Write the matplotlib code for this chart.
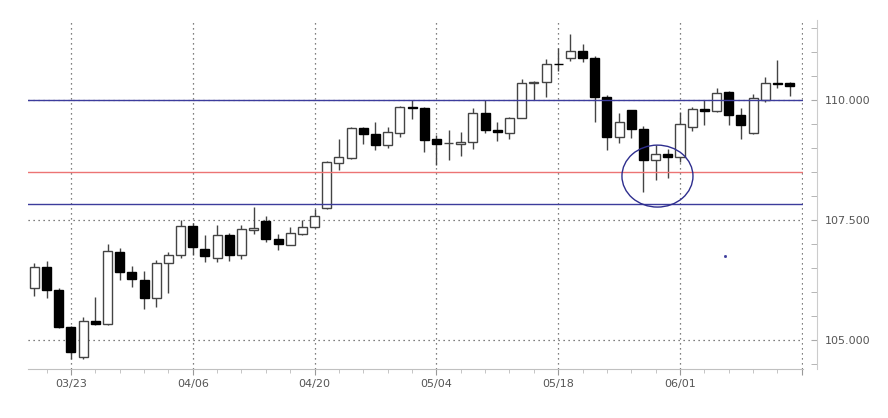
import numpy as np
import pandas as pd
import matplotlib
matplotlib.use('Agg')
import matplotlib.pyplot as plt
from matplotlib.patches import Ellipse
from matplotlib.ticker import MultipleLocator, FixedLocator, FuncFormatter

# daily USD/JPY candles, 2020-03-18 .. 2020-06-12 (business days)
dates = pd.bdate_range('2020-03-18', periods=63)

opens = [106.08, 106.53, 106.04, 105.28, 104.65, 105.40, 105.33, 106.84, 106.42, 106.26,
         105.88, 106.61, 106.77, 107.38, 106.91, 106.72, 107.20, 106.77, 107.30, 107.49,
         107.10, 106.99, 107.22, 107.35, 107.76, 108.69, 108.80, 109.42, 109.29, 109.06,
         109.32, 109.86, 109.83, 109.19, 109.10, 109.08, 109.12, 109.74, 109.39, 109.31,
         109.64, 110.35, 110.37, 110.76, 110.89, 111.03, 110.89, 110.07, 109.24, 109.79,
         109.41, 108.75, 108.89, 108.81, 109.44, 109.81, 109.78, 110.17, 109.69, 109.31,
         110.01, 110.36, 110.35]
highs = [106.61, 106.65, 106.08, 105.29, 105.49, 105.90, 107.01, 106.92, 106.54, 106.44,
         106.67, 106.84, 107.50, 107.45, 107.20, 107.40, 107.24, 107.41, 107.78, 107.59,
         107.21, 107.36, 107.51, 107.74, 108.74, 109.20, 109.44, 109.44, 109.54, 109.44,
         109.88, 110.01, 109.86, 109.27, 109.39, 109.34, 109.83, 110.00, 109.55, 109.65,
         110.45, 110.40, 110.85, 111.08, 111.39, 111.17, 110.92, 110.10, 109.74, 109.80,
         109.46, 109.06, 108.99, 109.76, 109.86, 110.00, 110.26, 110.19, 109.83, 110.12,
         110.49, 110.83, 110.38]
lows = [105.92, 105.88, 105.26, 104.62, 104.62, 105.32, 105.32, 106.25, 106.11, 105.66,
        105.70, 105.99, 106.72, 106.77, 106.63, 106.63, 106.65, 106.70, 107.22, 107.05,
        106.89, 106.98, 107.19, 107.34, 107.74, 108.54, 108.78, 109.08, 108.97, 109.01,
        109.24, 109.60, 108.92, 108.65, 108.76, 108.83, 108.99, 109.31, 109.15, 109.20,
        109.62, 110.01, 110.07, 110.61, 110.82, 110.79, 109.55, 108.96, 109.11, 109.22,
        108.09, 108.33, 108.39, 108.72, 109.36, 109.48, 109.76, 109.48, 109.20, 109.30,
        109.96, 110.26, 110.08]
closes = [106.53, 106.04, 105.28, 104.76, 105.40, 105.33, 106.85, 106.42, 106.27, 105.88,
          106.61, 106.77, 107.38, 106.94, 106.75, 107.20, 106.77, 107.31, 107.33, 107.10,
          107.00, 107.24, 107.36, 107.59, 108.72, 108.82, 109.42, 109.29, 109.06, 109.34,
          109.86, 109.83, 109.18, 109.08, 109.10, 109.13, 109.74, 109.39, 109.33, 109.64,
          110.35, 110.39, 110.76, 110.75, 111.03, 110.89, 110.06, 109.24, 109.55, 109.41,
          108.75, 108.89, 108.81, 109.51, 109.81, 109.78, 110.16, 109.69, 109.48, 110.04,
          110.36, 110.33, 110.30]

# horizontal levels drawn on the chart
blue_levels = [110.0, 107.83]
red_levels = [108.5]
label_days = ['2020-03-23', '2020-04-06', '2020-04-20', '2020-05-04', '2020-05-18', '2020-06-01']

o = np.array(opens); h = np.array(highs); l = np.array(lows); c = np.array(closes)
x = np.arange(len(dates))

fig = plt.figure(figsize=(8.88, 4.18), dpi=100)
ax = fig.add_axes([0.0315, 0.117, 0.8728, 0.835])

up = c >= o
ax.vlines(x, l, h, color='#444444', lw=1, zorder=2)
ax.bar(x[up], (c - o)[up], 0.74, bottom=o[up], color='white', edgecolor='#444444', lw=1, zorder=3)
ax.bar(x[~up], (o - c)[~up], 0.74, bottom=c[~up], color='black', edgecolor='black', lw=1, zorder=3)

for lv in blue_levels:
    ax.axhline(lv, color='#3c3c9c', lw=1, zorder=4)
for lv in red_levels:
    ax.axhline(lv, color='#ec7474', lw=1, zorder=4)

ax.add_patch(Ellipse((51.15, 108.42), 5.83, 1.29, fill=False, edgecolor='#2e2e8e', lw=1, zorder=5))
ax.plot([56.7], [106.75], marker='s', ms=1, color='#3c3c9c', lw=0)

ax.set_xlim(-0.53, 63.1)
ax.set_ylim(104.4, 111.67)

# x axis: label every other Monday, gridline one step past last candle
pos = [int(np.where(dates == pd.Timestamp(d))[0][0]) for d in label_days]
pos.append(pos[-1] + 10)
labels = [pd.Timestamp(d).strftime('%m/%d') for d in label_days] + ['']
ax.xaxis.set_major_locator(FixedLocator(pos))
ax.set_xticklabels(labels)
ax.xaxis.set_minor_locator(FixedLocator(np.arange(1, len(dates) + 1, 2)))

ax.yaxis.set_major_locator(MultipleLocator(2.5))
ax.yaxis.set_minor_locator(MultipleLocator(0.5))
ax.yaxis.set_major_formatter(FuncFormatter(lambda v, p: '%.3f' % v))
ax.yaxis.tick_right()

ax.grid(True, which='major', color='#555555', lw=0.9, linestyle=(0, (1, 3)))

for s in ['top', 'left']:
    ax.spines[s].set_visible(False)
ax.spines['bottom'].set_color('#c0c0c0')
ax.spines['right'].set_color('#cccccc')
ax.spines['right'].set_position(('outward', 10))

ax.tick_params(axis='x', which='major', length=4, color='#999999', labelsize=8, labelcolor='#555555', pad=3)
ax.tick_params(axis='x', which='minor', length=3, color='#bbbbbb')
ax.tick_params(axis='y', which='both', direction='in', length=4, color='#aaaaaa', labelsize=8,
               labelcolor='#555555', pad=6)

fig.savefig('out.png', dpi=100)
